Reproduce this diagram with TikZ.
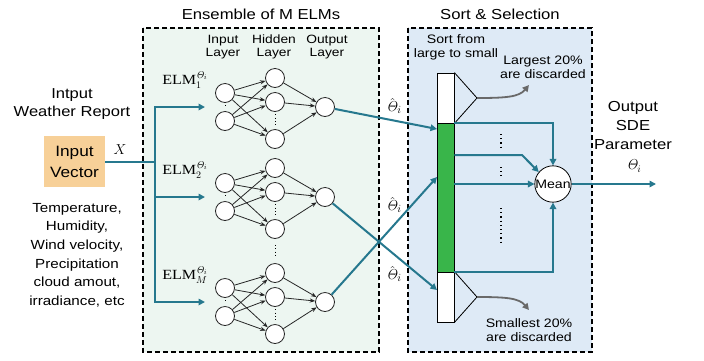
\documentclass[tikz,border=0pt]{standalone}
\usepackage[no-math]{fontspec}
\usepackage{amsmath}
\setmainfont{Liberation Sans}[FakeStretch=1.15]
\newfontfamily\elmfont{Liberation Serif}[FakeStretch=1.15]
\usetikzlibrary{arrows.meta}

\definecolor{linkteal}{RGB}{38,120,142}
\definecolor{stackgreen}{RGB}{57,181,74}
\definecolor{vecorange}{RGB}{247,208,152}
\definecolor{ensbg}{RGB}{237,246,241}
\definecolor{sortbg}{RGB}{222,234,246}
\definecolor{dropgrey}{RGB}{105,105,105}

\begin{document}
\begin{tikzpicture}[x=1pt, y=-1pt,
        neuron/.style={circle, draw=black!85, fill=white, line width=0.8pt, minimum size=19pt, inner sep=0pt},
        wire/.style={-{Stealth[length=5.5pt,width=4.2pt]}, line width=0.8pt, draw=black!85},
        flow/.style={-{Triangle[length=6.5pt,width=6.5pt]}, line width=2pt, draw=linkteal},
        bus/.style={line width=2pt, draw=linkteal},
        dropline/.style={-{Triangle[length=6.5pt,width=6.5pt]}, line width=1.8pt, draw=dropgrey},
        dots/.style={line width=0.9pt, dash pattern=on 0.9pt off 2.4pt, shorten <=2.5pt, shorten >=2.5pt},
        frame/.style={line width=1.2pt, dash pattern=on 5pt off 3pt},
        cell/.style={draw, line width=0.8pt, minimum width=17pt, inner sep=0pt},
        heading/.style={font=\fontsize{14.5}{17}\selectfont},
        layer/.style={align=center, font=\fontsize{12}{13}\selectfont},
        note/.style={align=center, font=\fontsize{12.3}{14}\selectfont},
        estim/.style={font=\fontsize{15}{17}\selectfont, inner sep=0pt}]
    \useasboundingbox (0,0) rectangle (704,360);

    % backdrops
    \draw[frame, fill=ensbg] (143,28) rectangle (379,352);
    \draw[frame, fill=sortbg] (408,28) rectangle (592,352);
    \node[heading] (enstitle) at (261,14) {Ensemble of M ELMs};
    \node[heading] (sorttitle) at (500,14) {Sort \& Selection};

    % input side
    \node[fill=vecorange, minimum width=61pt, minimum height=51pt, align=center,
        font=\fontsize{15}{21}\selectfont] (vec) at (74.5,161.5) {Input\\Vector};
    \node[align=center, font=\fontsize{14.4}{18}\selectfont] (report) at (72,104) {Intput\\Weather Report};
    \node[align=center, font=\fontsize{13.2}{18.6}\selectfont] (features) at (77,255)
        {Temperature,\\Humidity,\\Wind velocity,\\Precipitation\\cloud amout,\\irradiance, etc};
    \node[font=\fontsize{14}{16}\selectfont] (xlabel) at (120,150) {$X$};

    % the ELM networks
    \foreach \k/\dy in {1/0, 2/90, M/195}{
        \node[neuron] (in-\k-1) at (225,{93+\dy}) {};
        \node[neuron] (in-\k-2) at (225,{121+\dy}) {};
        \node[neuron] (hid-\k-1) at (275,{78+\dy}) {};
        \node[neuron] (hid-\k-2) at (275,{102+\dy}) {};
        \node[neuron] (hid-\k-3) at (275,{139+\dy}) {};
        \node[neuron] (out-\k) at (325,{107+\dy}) {};
        \foreach \a in {1,2}
            \foreach \b in {1,2,3}
                \draw[wire] (in-\k-\a) -- (hid-\k-\b);
        \foreach \b in {1,2,3}
            \draw[wire] (hid-\k-\b) -- (out-\k);
        \draw[dots] (in-\k-1) -- (in-\k-2);
        \draw[dots] (hid-\k-2) -- (hid-\k-3);
        \node[font=\fontsize{14}{16}\selectfont] (elm-\k) at (185,{80+\dy}) {{\elmfont ELM}$^{\mathit{\Theta}_i}_{\k}$};
        \coordinate (feed-\k) at (205,{107+\dy});
    }
    \draw[dots, shorten <=6pt, shorten >=6pt] (hid-2-3) -- (hid-M-1);

    \node[layer] (inlayer) at (223,47) {Input\\Layer};
    \node[layer] (hidlayer) at (274,47) {Hidden\\Layer};
    \node[layer] (outlayer) at (327,47) {Output\\Layer};

    % feeding the ensemble
    \coordinate (split) at (155,161.5);
    \draw[bus] (vec.east) -- (split);
    \draw[flow] (split) |- (feed-1);
    \draw[flow] (split) |- (feed-M);
    \draw[flow] (split|-feed-2) -- (feed-2);

    % sorted stack
    \node[cell, fill=white, minimum height=50pt] (top) at (445.5,98) {};
    \node[cell, fill=stackgreen, minimum height=149pt] (mid) at (445.5,197.5) {};
    \node[cell, fill=white, minimum height=50pt] (bot) at (445.5,297) {};
    \node[note] (sortnote) at (456,47) {Sort from\\large to small};

    % ensemble outputs into the stack
    \coordinate (hit-1) at (437,129);
    \coordinate (hit-2) at (437,290);
    \coordinate (hit-M) at (437,177);
    \draw[flow] (out-1) -- (hit-1);
    \draw[flow] (out-2) -- (hit-2);
    \draw[flow] (out-M) -- (hit-M);
    \node[estim] (est-1) at (394,106) {$\hat{\mathit{\Theta}}_i$};
    \node[estim] (est-2) at (394,205) {$\hat{\mathit{\Theta}}_i$};
    \node[estim] (est-M) at (394,274) {$\hat{\mathit{\Theta}}_i$};

    % discarded parts
    \coordinate (cut-top) at (477,98);
    \coordinate (cut-bot) at (477,297);
    \coordinate (drop-top) at (529,85);
    \coordinate (drop-bot) at (529,310);
    \draw[line width=0.8pt] (top.north east) -- (cut-top) -- (top.south east);
    \draw[line width=0.8pt] (bot.north east) -- (cut-bot) -- (bot.south east);
    \draw[dropline] (cut-top) .. controls (506,98) and (519,97) .. (drop-top);
    \draw[dropline] (cut-bot) .. controls (506,297) and (519,298) .. (drop-bot);
    \node[note] (largest) at (543,67) {Largest 20\%\\are discarded};
    \node[note] (smallest) at (529,330) {Smallest 20\%\\are discarded};

    % averaging
    \node[circle, draw, fill=white, line width=0.8pt, minimum size=36pt, inner sep=0pt,
        font=\fontsize{12.3}{14}\selectfont] (mean) at (553,184) {Mean};
    \coordinate (bend) at (522,155);
    \draw[flow] (mid.north east) -| (mean.north);
    \draw[flow] (mid.east|-bend) -- (bend) -- (mean.140);
    \draw[flow] (mid.east|-mean) -- (mean.west);
    \draw[flow] (mid.south east) -| (mean.south);
    \draw[dots, line width=1.2pt, dash pattern=on 1.2pt off 3pt, shorten <=0pt, shorten >=0pt] (501,134) -- (501,148);
    \draw[dots, line width=1.2pt, dash pattern=on 1.2pt off 3pt, shorten <=0pt, shorten >=0pt] (501,167) -- (501,176);
    \draw[dots, line width=1.2pt, dash pattern=on 1.2pt off 3pt, shorten <=0pt, shorten >=0pt] (501,208) -- (501,244);

    % result
    \coordinate (result) at (656,184);
    \draw[flow] (mean.east) -- (result);
    \node[align=center, font=\fontsize{14.5}{19}\selectfont] (outtext) at (633,126) {Output\\SDE\\Parameter};
    \node[font=\fontsize{14}{16}\selectfont] (theta) at (634,166) {$\mathit{\Theta}_i$};
\end{tikzpicture}
\end{document}
